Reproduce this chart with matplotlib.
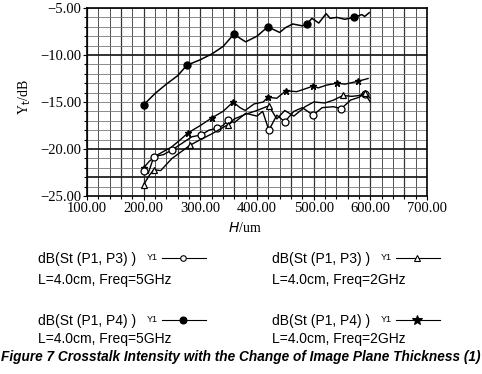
import matplotlib
matplotlib.use('Agg')
import matplotlib.pyplot as plt
from matplotlib.ticker import MultipleLocator

# thickness H (um) and crosstalk (dB)
h_p14_5g = [200, 220, 240, 260, 276, 300, 320, 340, 359, 380, 400, 419, 440, 450, 463,
            480, 488, 497, 509, 522, 529, 541, 555, 571, 585, 590, 598]
db_p14_5g = [-15.3, -14.1, -13.1, -12.2, -11.1, -10.5, -9.9, -9.1, -7.8, -8.6, -8.0, -7.0,
             -7.6, -7.1, -6.7, -6.9, -6.7, -6.1, -6.6, -5.6, -6.1, -6.0, -6.2, -6.0, -5.7,
             -5.9, -5.5]
mk_p14_5g = [0, 4, 8, 11, 16, 23]

h_p14_2g = [200, 210, 225, 249, 265, 278, 300, 320, 340, 358, 370, 379, 395, 411, 419,
            435, 451, 470, 485, 499, 508, 523, 541, 555, 578, 596]
db_p14_2g = [-22.0, -21.3, -20.6, -19.8, -19.0, -18.3, -17.5, -16.7, -16.0, -15.0, -15.6,
             -15.9, -15.2, -15.0, -14.5, -14.6, -13.8, -13.9, -13.6, -13.3, -13.5, -13.2,
             -13.0, -13.1, -12.8, -12.5]
mk_p14_2g = [0, 5, 7, 9, 14, 16, 19, 22, 24]

h_p13_5g = [200, 208, 218, 235, 250, 270, 285, 302, 315, 329, 340, 349, 360, 380, 400,
            410, 421, 435, 449, 465, 480, 499, 515, 535, 549, 565, 580, 590, 600]
db_p13_5g = [-22.3, -22.6, -20.8, -20.6, -20.1, -19.3, -18.7, -18.5, -18.0, -17.8, -17.5,
             -16.9, -17.2, -16.2, -16.5, -16.0, -18.0, -16.4, -17.1, -16.0, -15.6, -16.4,
             -15.6, -15.5, -15.7, -14.8, -14.5, -14.1, -15.0]
mk_p13_5g = [0, 2, 4, 7, 9, 11, 16, 18, 21, 24, 27]

h_p13_2g = [200, 210, 218, 230, 250, 282, 300, 320, 349, 360, 380, 400, 421, 435, 449,
            465, 485, 500, 520, 535, 552, 567, 582, 590, 600]
db_p13_2g = [-23.8, -22.8, -22.2, -22.3, -21.0, -19.6, -19.0, -18.4, -17.4, -16.8, -16.3,
             -15.9, -15.4, -16.8, -15.9, -16.5, -15.5, -15.0, -15.1, -14.8, -14.3, -14.4,
             -14.3, -14.0, -14.6]
mk_p13_2g = [0, 2, 5, 8, 12, 20, 23]

xticks = [100, 200, 300, 400, 500, 600, 700]
yticks = [-25, -20, -15, -10, -5]

W, H = 482, 374
fig = plt.figure(figsize=(W / 100, H / 100), dpi=100)
ax = fig.add_axes([87 / W, 1 - 196 / H, 340 / W, 188 / H])

# grid of the scanned chart
for x in range(100, 701, 20):
    ax.axvline(x, color='#333333', lw=0.9 if x % 100 in (0, 60) else 0.6, zorder=0)
for y in range(-25, -4):
    thick = y in (-10, -20, -23)
    ax.axhline(y, color='#222222' if thick else '#777777', lw=1.3 if thick else 0.6, zorder=0)

ax.plot(h_p14_5g, db_p14_5g, color='black', lw=1.1, marker='o', ms=5,
        mfc='black', markevery=mk_p14_5g)
ax.plot(h_p14_2g, db_p14_2g, color='black', lw=1.0, marker='*', ms=5,
        mfc='black', markevery=mk_p14_2g)
ax.plot(h_p13_5g, db_p13_5g, color='black', lw=1.0, marker='o', ms=5,
        mfc='white', mew=0.9, markevery=mk_p13_5g)
ax.plot(h_p13_2g, db_p13_2g, color='black', lw=1.0, marker='^', ms=5,
        mfc='white', mew=0.9, markevery=mk_p13_2g)

ax.set_xlim(100, 700)
ax.set_ylim(-25, -5)
ax.set_xticks(xticks)
ax.set_yticks(yticks)
ax.set_xticklabels(['%.2f' % v for v in xticks], family='Liberation Serif', fontsize=10.5)
ax.set_yticklabels(['\u2212%.2f' % -v for v in yticks], family='Liberation Serif', fontsize=10.5)
ax.yaxis.set_minor_locator(MultipleLocator(1))
ax.xaxis.set_minor_locator(MultipleLocator(20))
ax.tick_params(which='both', direction='out', length=2.5, width=0.8, pad=1)
ax.tick_params(which='major', length=3)
for s in ax.spines.values():
    s.set_linewidth(1.2)

fig.text(245 / W, 1 - 228 / H, r'$\mathit{H}$/um', ha='center', va='center',
         family='Liberation Serif', fontsize=10)
fig.text(25 / W, 1 - 97 / H, r'Y$_{\mathrm{t}}$/dB', ha='center', va='center',
         rotation=90, family='Liberation Serif', fontsize=10)

# legend block drawn below the chart
lg = fig.add_axes([0, 0, 1, 1])
lg.set_xlim(0, W)
lg.set_ylim(H, 0)
lg.axis('off')
entries = [
    (38, 259, 21, 'dB(St (P1, P3) )', 'L=4.0cm, Freq=5GHz', dict(marker='o', mfc='white', ms=4)),
    (272, 259, 21, 'dB(St (P1, P3) )', 'L=4.0cm, Freq=2GHz', dict(marker='^', mfc='white', ms=5)),
    (38, 321, 18, 'dB(St (P1, P4) )', 'L=4.0cm, Freq=5GHz', dict(marker='o', mfc='black', ms=5)),
    (272, 321, 18, 'dB(St (P1, P4) )', 'L=4.0cm, Freq=2GHz', dict(marker='*', mfc='black', ms=7)),
]
for x0, y0, gap, top, bottom, style in entries:
    lg.text(x0, y0, top, ha='left', va='center', family='Liberation Sans', fontsize=10)
    lg.text(x0, y0 + gap, bottom, ha='left', va='center', family='Liberation Sans', fontsize=10)
    lg.text(x0 + 109, y0 - 2, 'Y1', ha='left', va='center', family='Liberation Sans', fontsize=6.5)
    lg.plot([x0 + 124, x0 + 168], [y0 - 1, y0 - 1], color='black', lw=0.8)
    lg.plot([x0 + 145], [y0 - 1], color='black', mew=0.8, ls='none', **style)

fig.text(241 / W, 1 - 357 / H,
         'Figure 7 Crosstalk Intensity with the Change of Image Plane Thickness (1)',
         ha='center', va='center', family='Liberation Sans', fontsize=9.8,
         fontweight='bold', fontstyle='italic')

fig.savefig('out.png', dpi=100)
